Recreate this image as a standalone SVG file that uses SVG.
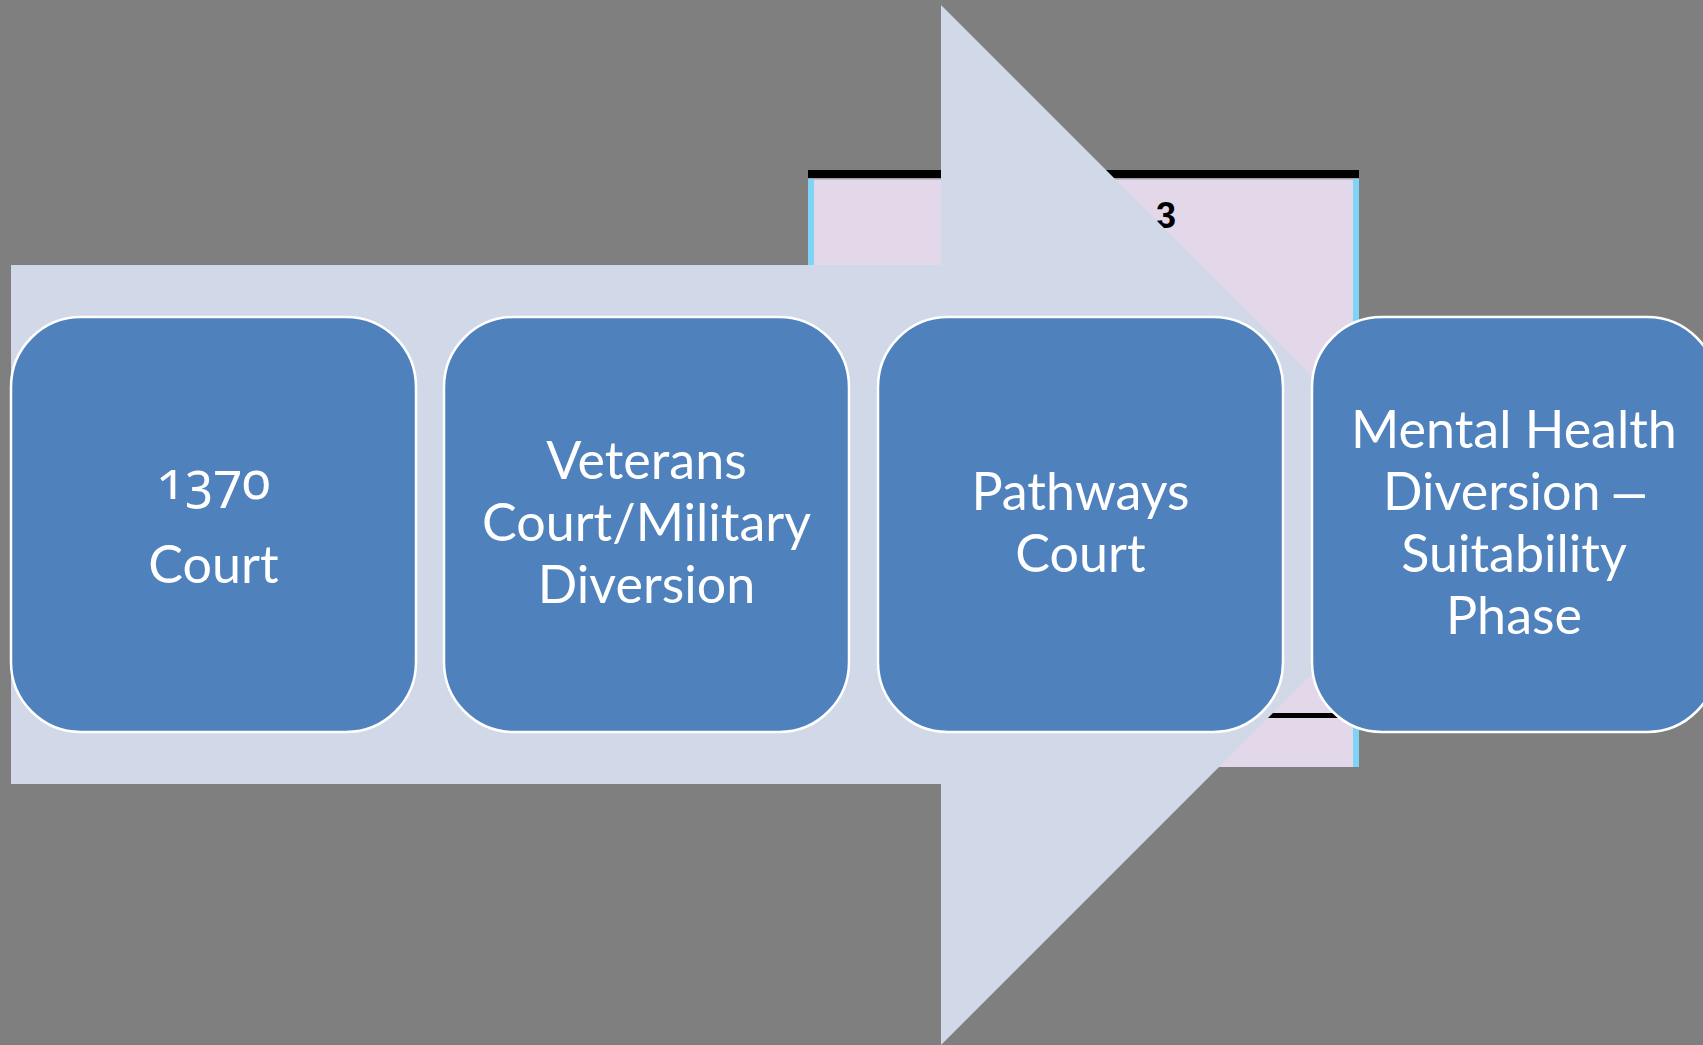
<svg xmlns="http://www.w3.org/2000/svg" width="1703" height="1045" viewBox="0 0 1703 1045">
  <style>
    .node rect { fill: #4F81BD; stroke: #FFFFFF; stroke-width: 2.5; }
    .label { font-family: Lato, "Liberation Sans", sans-serif; font-size: 52px; fill: #FFFFFF; text-anchor: middle; }
    .onum { font-family: "Noto Sans", Lato, sans-serif; font-variant-numeric: oldstyle-nums; font-feature-settings: "onum" 1; }
    .dash { font-family: "Liberation Sans", sans-serif; font-size: 56px; }
  </style>
  <rect x="0" y="0" width="1703" height="1045" fill="#7F7F7F"/>

  <g id="background-slide">
    <rect x="808" y="170" width="551" height="597" fill="#E3D7EA"/>
    <rect x="808" y="170" width="551" height="8" fill="#000000"/>
    <rect x="808" y="178" width="551" height="1.5" fill="#A39DAE"/>
    <rect x="808" y="179" width="6" height="588" fill="#7FD3F6"/>
    <rect x="1353" y="179" width="6" height="588" fill="#7FD3F6"/>
    <rect x="1200" y="713" width="159" height="5" fill="#000000"/>
    <text x="1176" y="228" font-family="Liberation Sans, Arial, sans-serif" font-weight="bold" font-size="36" fill="#000000" text-anchor="end">3</text>
  </g>

  <g id="connectors">
    <polygon id="process-arrow" points="11,265 941,265 941,5 1461,525 941,1045 941,784 11,784" fill="#D1D8E7"/>
  </g>

  <g id="node-1370" class="node">
    <rect x="11" y="317" width="405" height="415" rx="70" ry="70"/>
    <text class="label onum" x="213.5" y="499">1370</text>
    <text class="label" x="213.5" y="583">Court</text>
  </g>

  <g id="node-veterans" class="node">
    <rect x="444" y="317" width="405" height="415" rx="70" ry="70"/>
    <text class="label" x="646.5" y="479">Veterans</text>
    <text class="label" x="646.5" y="541">Court/Military</text>
    <text class="label" x="646.5" y="603">Diversion</text>
  </g>

  <g id="node-pathways" class="node">
    <rect x="878" y="317" width="405" height="415" rx="70" ry="70"/>
    <text class="label" x="1080.5" y="510">Pathways</text>
    <text class="label" x="1080.5" y="572">Court</text>
  </g>

  <g id="node-mental-health" class="node">
    <rect x="1312" y="317" width="405" height="415" rx="70" ry="70"/>
    <text class="label" x="1514" y="448">Mental Health</text>
    <text class="label" x="1514" y="510">Diversion <tspan class="dash">–</tspan></text>
    <text class="label" x="1514" y="572">Suitability</text>
    <text class="label" x="1514" y="634">Phase</text>
  </g>
</svg>
